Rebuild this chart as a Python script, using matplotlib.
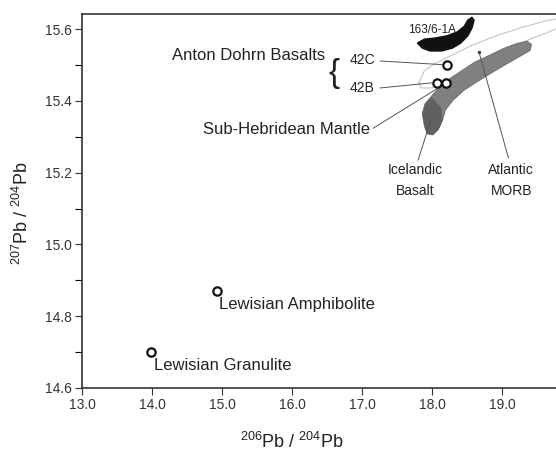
import matplotlib
matplotlib.use('Agg')
import matplotlib.pyplot as plt
import numpy as np

plt.rcParams['font.family'] = ['Liberation Sans', 'DejaVu Sans']
plt.rcParams['mathtext.fontset'] = 'custom'
plt.rcParams['mathtext.rm'] = 'Liberation Sans'
plt.rcParams['mathtext.default'] = 'regular'

# sample points (206Pb/204Pb, 207Pb/204Pb)
lew_x = [14.93, 13.99]
lew_y = [14.87, 14.70]
lew_names = ['Lewisian Amphibolite', 'Lewisian Granulite']
ad_x = [18.21, 18.07, 18.20]
ad_y = [15.50, 15.45, 15.45]

# field outlines
cres_x = [17.79, 17.86, 17.97, 18.14, 18.29, 18.41, 18.51, 18.57, 18.60,
          18.57, 18.51, 18.46, 18.36, 18.21, 18.04, 17.89]
cres_y = [15.561, 15.547, 15.539, 15.539, 15.547, 15.561, 15.581, 15.603, 15.625,
          15.633, 15.625, 15.608, 15.592, 15.581, 15.575, 15.572]
ice_x = [17.89, 17.86, 17.90, 18.03, 18.19, 18.39, 18.61, 18.83, 19.02, 19.21, 19.36, 19.42,
         19.40, 19.22, 19.04, 18.85, 18.65, 18.46, 18.30, 18.19, 18.15, 18.09, 18.01, 17.93]
ice_y = [15.330, 15.365, 15.392, 15.422, 15.452, 15.480, 15.508, 15.528, 15.546, 15.560, 15.566, 15.557,
         15.540, 15.520, 15.500, 15.478, 15.454, 15.430, 15.402, 15.374, 15.346, 15.320, 15.305, 15.308]
dark_x = [17.89, 17.86, 17.90, 18.00, 18.13, 18.15, 18.09, 18.01, 17.93]
dark_y = [15.330, 15.365, 15.392, 15.410, 15.380, 15.346, 15.320, 15.305, 15.308]
morb_x = [17.81, 17.89, 18.06, 18.27, 18.56, 18.91, 19.27, 19.63, 19.86,
          19.86, 19.63, 19.34, 19.06, 18.77, 18.49, 18.20, 17.99, 17.84, 17.81]
morb_y = [15.450, 15.484, 15.506, 15.526, 15.554, 15.581, 15.604, 15.623, 15.631,
          15.609, 15.589, 15.567, 15.545, 15.517, 15.487, 15.459, 15.436, 15.436, 15.450]

fig = plt.figure(figsize=(5.56, 4.53), dpi=100)
ax = fig.add_axes([0.1475, 0.1435, 0.8525, 0.8256])

ax.plot(morb_x, morb_y, color='#c4c4c4', lw=0.8, zorder=1)
ax.fill(ice_x, ice_y, color='#808080', ec='#6a6a6a', lw=0.6, zorder=2)
ax.fill(dark_x, dark_y, color='#606060', lw=0, zorder=2)
ax.fill(cres_x, cres_y, color='#111111', zorder=3)
ax.plot([18.67], [15.536], 'o', color='#444444', ms=1.5, zorder=4)

ax.plot(lew_x, lew_y, 'o', mfc='white', mec='#111111', ms=6, mew=1.6, zorder=5)
ax.plot(ad_x, ad_y, 'o', mfc='white', mec='#111111', ms=6, mew=1.6, zorder=5)

tc = '#222222'
lc = '#555555'
ax.text(14.96, 14.833, lew_names[0], fontsize=12, color=tc, va='center')
ax.text(14.03, 14.663, lew_names[1], fontsize=12, color=tc, va='center')

ax.text(18.0, 15.597, '163/6-1A', fontsize=8.5, color=tc, ha='center', va='center',
        zorder=6)
ax.text(16.47, 15.525, 'Anton Dohrn Basalts', fontsize=12, color=tc, ha='right', va='center')
ax.text(16.6, 15.475, '{', fontsize=24, color=tc, ha='center', va='center', fontweight='light')
ax.text(16.82, 15.514, '42C', fontsize=10, color=tc, va='center')
ax.text(16.82, 15.436, '42B', fontsize=10, color=tc, va='center')
ax.plot([17.26, 18.14], [15.511, 15.501], color=lc, lw=0.7)
ax.plot([17.26, 17.99], [15.436, 15.450], color=lc, lw=0.7)
ax.text(17.11, 15.319, 'Sub-Hebridean Mantle', fontsize=12, color=tc, ha='right', va='center')
ax.plot([17.16, 18.09], [15.324, 15.436], color=lc, lw=0.7)
ax.text(17.76, 15.178, 'Icelandic\nBasalt', fontsize=10, color=tc, ha='center', va='center',
        linespacing=1.7)
ax.plot([17.80, 17.98], [15.235, 15.345], color=lc, lw=0.7)
ax.text(19.13, 15.178, 'Atlantic\nMORB', fontsize=10, color=tc, ha='center', va='center',
        linespacing=1.7)
ax.plot([19.09, 18.67], [15.241, 15.536], color=lc, lw=0.7)

ax.set_xlim(13.0, 19.77)
ax.set_ylim(14.6, 15.642)
ax.set_xticks([13.0, 14.0, 15.0, 16.0, 17.0, 18.0, 19.0])
ax.set_xticklabels(['13.0', '14.0', '15.0', '16.0', '17.0', '18.0', '19.0'])
ax.set_yticks([14.6, 14.8, 15.0, 15.2, 15.4, 15.6])
ax.set_yticklabels(['14.6', '14.8', '15.0', '15.2', '15.4', '15.6'])
ax.set_yticks(np.arange(14.7, 15.6, 0.2), minor=True)
ax.tick_params(labelsize=10, colors='#333333', length=5, width=0.8, pad=2)
ax.tick_params(which='minor', length=5, width=0.8)
ax.spines['right'].set_visible(False)
for s in ['left', 'top', 'bottom']:
    ax.spines[s].set_color('#333333')
    ax.spines[s].set_linewidth(1.2)

fig.text(0.525, 0.025, r'$^{206}$Pb / $^{204}$Pb', fontsize=13, color=tc, ha='center', va='center')
fig.text(0.04, 0.53, r'$^{207}$Pb / $^{204}$Pb', fontsize=13, color=tc, ha='center',
         va='center', rotation=90)

fig.savefig('out.png', dpi=100)
